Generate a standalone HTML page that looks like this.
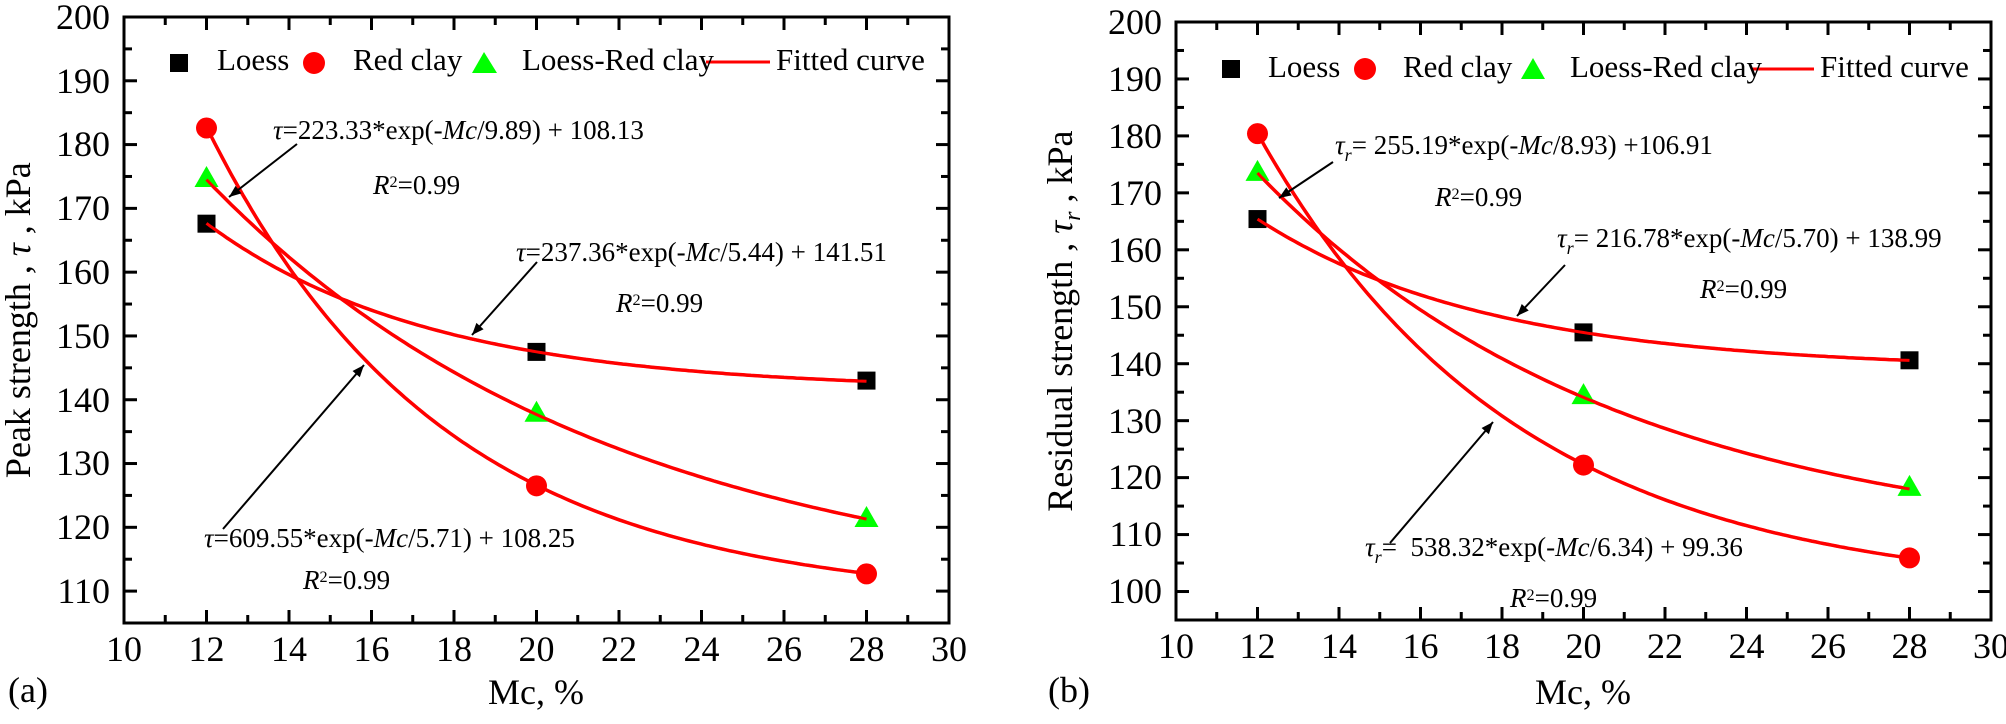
<!DOCTYPE html>
<html><head><meta charset="utf-8"><style>
html,body{margin:0;padding:0;background:#fff}
#wrap{position:relative;width:2006px;height:724px;overflow:hidden}
svg{display:block;position:absolute;left:0;top:0}
.t{position:absolute;white-space:nowrap;font-family:"Liberation Serif","Times New Roman",serif;color:#000}
.t i{font-style:italic}
.sup{position:relative;top:-0.45em;font-size:0.6em}
.sub{position:relative;top:0.35em;font-size:0.67em;font-style:italic}
</style></head><body>
<div id="wrap">
<svg id="s" width="2006" height="724" viewBox="0 0 2006 724" xmlns="http://www.w3.org/2000/svg">
<defs>
<marker id="ah2" viewBox="0 0 10 10" refX="10" refY="5" markerWidth="16" markerHeight="12" orient="auto" markerUnits="userSpaceOnUse"><path d="M0,1 L10,5 L0,9 z" fill="#000"/></marker></defs>
<g id="g"></g>
<g stroke="#000" stroke-width="2" marker-end="url(#ah2)">
<line x1="297" y1="144" x2="229" y2="197"/>
<line x1="537" y1="262" x2="472" y2="335"/>
<line x1="223" y1="529" x2="364" y2="365"/>
<line x1="1333" y1="162" x2="1279" y2="198"/>
<line x1="1565" y1="265" x2="1517" y2="316"/>
<line x1="1390" y1="543" x2="1493" y2="422"/>
</g>
<rect x="170" y="54" width="18" height="18" fill="#000"/>
<circle cx="314" cy="63" r="11" fill="#f00"/>
<path d="M472,73 L484,52 L497,73 z" fill="#0f0"/>
<line x1="706" y1="62" x2="770" y2="62" stroke="#f00" stroke-width="3"/>
<rect x="1222" y="60" width="18" height="18" fill="#000"/>
<circle cx="1365" cy="69" r="11" fill="#f00"/>
<path d="M1521,79 L1533,58 L1545,79 z" fill="#0f0"/>
<line x1="1752" y1="69" x2="1814" y2="69" stroke="#f00" stroke-width="3"/>
</svg>
</div>
<script>
var NS="http://www.w3.org/2000/svg",g=document.getElementById('g'),W=document.getElementById('wrap');
function el(t,a){var e=document.createElementNS(NS,t);for(var k in a)e.setAttribute(k,a[k]);g.appendChild(e);return e;}
function T(x,y,h,fs,anc,rot){var d=document.createElement('div');d.className='t';d.innerHTML=h;
 d.style.fontSize=fs+'px';d.style.lineHeight=fs+'px';d.style.left=x+'px';d.style.top=(y-0.8375*fs)+'px';
 var tx=anc=='m'?'-50%':anc=='e'?'-100%':'0';
 if(rot){d.style.transformOrigin='0 '+(0.8375*fs)+'px';d.style.transform='rotate(-90deg) translateX('+tx+')';}
 else d.style.transform='translateX('+tx+')';
 W.appendChild(d);}
function plot(P){
 var X=function(v){return P.x0+(v-10)*(P.x1-P.x0)/20},Y=function(v){return P.y1-(v-P.ymin)*(P.y1-P.y0)/(200-P.ymin)};
 function curve(w){P.fits.forEach(function(f){var d="";for(var i=0;i<=160;i++){var x=12+i*0.1;d+=(i?"L":"M")+X(x).toFixed(1)+","+Y(f[0]*Math.exp(-x/f[1])+f[2]).toFixed(1);}el('path',{d:d,fill:'none',stroke:'#f00','stroke-width':w});});}
 curve(3.5);
 [12,20,28].forEach(function(x,i){var cx=X(x),cy;
  cy=Y(P.lo[i]);el('rect',{x:cx-9,y:cy-9,width:18,height:18,fill:'#000'});
  cy=Y(P.rc[i]);el('circle',{cx:cx,cy:cy,r:10.5,fill:'#f00'});
  cy=Y(P.lr[i]);el('path',{d:"M"+(cx-12)+","+(cy+8)+"L"+cx+","+(cy-13)+"L"+(cx+12)+","+(cy+8)+"z",fill:'#0f0'});
 });
 curve(3);
 el('rect',{x:P.x0,y:P.y0,width:P.x1-P.x0,height:P.y1-P.y0,fill:'none',stroke:'#000','stroke-width':3});
 for(var v=10;v<=30;v++){var x=X(v),L=(v%2==0)?13:8;
  el('line',{x1:x,y1:P.y1,x2:x,y2:P.y1-L,stroke:'#000','stroke-width':3});
  el('line',{x1:x,y1:P.y0,x2:x,y2:P.y0+L,stroke:'#000','stroke-width':3});
  if(v%2==0)T(x,P.y1+38,String(v),36,'m');}
 for(var v=Math.ceil(P.ymin/5)*5;v<=200;v+=5){var y=Y(v),L=(v%10==0)?13:8;
  el('line',{x1:P.x0,y1:y,x2:P.x0+L,y2:y,stroke:'#000','stroke-width':3});
  el('line',{x1:P.x1,y1:y,x2:P.x1-L,y2:y,stroke:'#000','stroke-width':3});
  if(v%10==0)T(P.x0-14,y+12,String(v),36,'e');}
}
plot({x0:124,x1:949,y0:17,y1:623,ymin:105,
 fits:[[237.36,5.44,141.51],[609.55,5.71,108.25],[223.33,9.89,108.13]],
 lo:[167.6,147.5,143],rc:[182.6,126.5,112.7],lr:[174.6,137.8,121.3]});
plot({x0:1176,x1:1991,y0:22,y1:620,ymin:95,
 fits:[[216.78,5.70,138.99],[538.32,6.34,99.36],[255.19,8.93,106.91]],
 lo:[165.4,145.5,140.6],rc:[180.4,122.2,105.9],lr:[173.5,134.3,118.2]});
var R2='<i>R</i><span class="sup">2</span>=0.99', tr='<i>τ</i><span class="sub">r</span>';
T(273,140,'<i>τ</i>=223.33*exp(-<i>Mc</i>/9.89) + 108.13',27);
T(373,195,R2,27);
T(516,262,'<i>τ</i>=237.36*exp(-<i>Mc</i>/5.44) + 141.51',27);
T(616,313,R2,27);
T(204,548,'<i>τ</i>=609.55*exp(-<i>Mc</i>/5.71) + 108.25',27);
T(303,590,R2,27);
T(1335,155,tr+'= 255.19*exp(-<i>Mc</i>/8.93) +106.91',27);
T(1435,207,R2,27);
T(1557,248,tr+'= 216.78*exp(-<i>Mc</i>/5.70) + 138.99',27);
T(1700,299,R2,27);
T(1365,557,tr+'=&nbsp; 538.32*exp(-<i>Mc</i>/6.34) + 99.36',27);
T(1510,608,R2,27);
T(217,70,'Loess',31);T(353,70,'Red clay',31);T(522,70,'Loess-Red clay',31);T(776,70,'Fitted curve',31);
T(1268,77,'Loess',31);T(1403,77,'Red clay',31);T(1570,77,'Loess-Red clay',31);T(1820,77,'Fitted curve',31);
T(30,320,'Peak strength , <i>τ</i> , kPa',36,'m',1);
T(1072,321,'Residual strength , '+tr+' , kPa',36,'m',1);
T(536,704,'Mc, %',36,'m');T(1583,704,'Mc, %',36,'m');
T(8,702,'(a)',36);T(1048,702,'(b)',36);
</script>
</body></html>
